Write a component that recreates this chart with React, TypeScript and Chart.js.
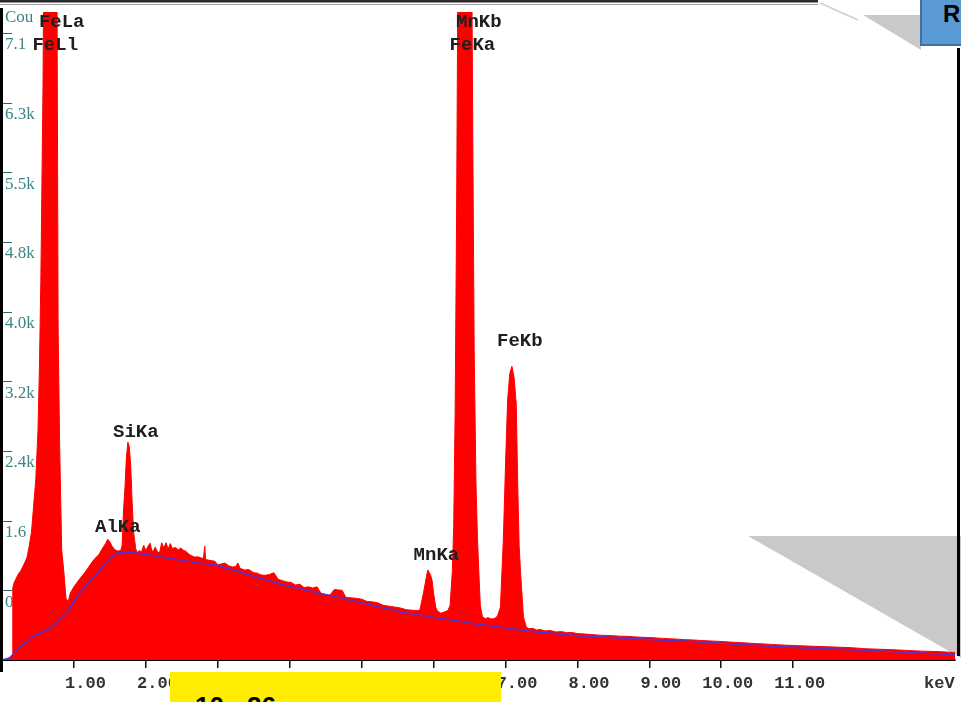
import React, { useEffect, useRef } from 'react';
import { Chart, registerables } from 'chart.js';

Chart.register(...registerables);

// EDS spectrum (energy in keV, counts)
const spectrumKeV = [
  0.0, 0.05, 0.1, 0.14, 0.15, 0.17, 0.2, 0.23, 0.26, 0.29, 0.32, 0.35, 0.38, 0.41, 0.44, 0.47, 0.5, 0.52, 0.54, 0.555,
  0.57, 0.585, 0.6, 0.65, 0.7, 0.74, 0.765, 0.78, 0.8, 0.83, 0.86, 0.89, 0.92, 0.95, 1.0, 1.08, 1.15, 1.27, 1.35, 1.4,
  1.44, 1.47, 1.5, 1.53, 1.57, 1.61, 1.65, 1.67, 1.69, 1.71, 1.73, 1.75, 1.77, 1.79, 1.81, 1.83, 1.86, 1.88, 1.91, 1.94,
  1.97, 2.0, 2.03, 2.06, 2.08, 2.1, 2.13, 2.16, 2.19, 2.22, 2.25, 2.28, 2.31, 2.34, 2.37, 2.41, 2.45, 2.49, 2.52, 2.56,
  2.6, 2.64, 2.68, 2.72, 2.76, 2.8, 2.82, 2.83, 2.87, 2.92, 2.96, 3.0, 3.05, 3.1, 3.15, 3.2, 3.25, 3.28, 3.31, 3.37,
  3.43, 3.5, 3.55, 3.6, 3.66, 3.72, 3.78, 3.84, 3.9, 3.96, 4.02, 4.08, 4.14, 4.2, 4.26, 4.32, 4.38, 4.44, 4.5, 4.56,
  4.62, 4.67, 4.73, 4.78, 4.85, 4.92, 5.0, 5.07, 5.14, 5.22, 5.3, 5.38, 5.46, 5.54, 5.62, 5.7, 5.78, 5.81, 5.86, 5.9,
  5.92, 5.96, 5.98, 6.0, 6.03, 6.05, 6.1, 6.15, 6.2, 6.23, 6.26, 6.28, 6.3, 6.32, 6.34, 6.37, 6.41, 6.45, 6.49, 6.52,
  6.545, 6.565, 6.59, 6.61, 6.63, 6.65, 6.68, 6.72, 6.76, 6.8, 6.85, 6.89, 6.93, 6.95, 6.97, 7.0, 7.03, 7.06, 7.09, 7.12,
  7.15, 7.17, 7.19, 7.21, 7.25, 7.29, 7.33, 7.38, 7.43, 7.48, 7.55, 7.62, 7.7, 7.78, 7.85, 7.92, 8.0, 8.1, 8.2, 8.3,
  8.4, 8.5, 8.6, 8.7, 8.8, 8.9, 9.0, 9.1, 9.2, 9.3, 9.4, 9.5, 9.6, 9.7, 9.8, 9.9, 10.0, 10.1, 10.2, 10.3,
  10.4, 10.5, 10.6, 10.7, 10.8, 10.9, 11.0, 11.2, 11.4, 11.6, 11.8, 12.0, 12.2, 12.4, 12.6, 12.8, 13.0, 13.25,
];
const spectrumCounts = [
  0, 10, 25, 60, 820, 880, 930, 980, 1010, 1060, 1110, 1170, 1300, 1450, 1750, 2050, 2600, 3300, 4300, 5400,
  6500, 8500, 10500, 11800, 11600, 10200, 7600, 3800, 2500, 1250, 1000, 700, 660, 760, 830, 920, 990, 1130, 1200, 1270,
  1320, 1370, 1340, 1290, 1250, 1235, 1240, 1300, 1700, 1960, 2300, 2470, 2420, 2200, 1780, 1450, 1260, 1220, 1240, 1225,
  1300, 1240, 1290, 1325, 1250, 1224, 1280, 1230, 1212, 1330, 1270, 1330, 1260, 1320, 1265, 1275, 1250, 1270, 1246, 1230,
  1200, 1180, 1167, 1170, 1160, 1150, 1290, 1140, 1133, 1125, 1120, 1076, 1090, 1100, 1070, 1055, 1060, 1100, 1040, 1020,
  1025, 990, 985, 965, 960, 970, 990, 915, 900, 884, 880, 850, 860, 820, 830, 816, 830, 750, 740, 735,
  800, 795, 790, 710, 705, 700, 690, 665, 660, 650, 620, 610, 600, 590, 570, 565, 560, 567, 760, 940,
  1020, 960, 900, 760, 600, 560, 530, 545, 560, 620, 990, 1500, 2800, 5000, 8000, 11500, 14000, 14300, 12500, 9500,
  6000, 3500, 2000, 1400, 990, 620, 490, 470, 480, 465, 470, 500, 600, 986, 1360, 2200, 2950, 3250, 3330, 3200,
  2900, 2000, 1300, 990, 490, 370, 355, 360, 340, 345, 330, 335, 318, 322, 310, 312, 300, 295, 288, 282,
  278, 275, 270, 268, 262, 258, 255, 250, 244, 240, 236, 230, 228, 222, 218, 214, 210, 205, 200, 196,
  190, 185, 182, 176, 172, 168, 165, 158, 152, 146, 140, 128, 122, 116, 108, 100, 96, 85,
];

// Fitted background line
const backgroundKeV = [0.0, 0.11, 0.25, 0.43, 0.67, 0.9, 1.08, 1.36, 1.6, 1.88, 2.06, 2.29, 2.75, 2.99, 3.91, 4.84, 5.54, 6.5, 7.3, 8.0, 8.7, 9.6, 10.5, 11.1, 12.0, 13.25];
const backgroundCounts = [0, 23, 147, 261, 363, 533, 759, 1020, 1224, 1212, 1190, 1156, 1099, 1076, 850, 680, 544, 420, 330, 275, 245, 210, 165, 140, 110, 60];

// Axis ticks
const xTickValues = [1, 2, 3, 4, 5, 6, 7, 8, 9, 10, 11, 12.8];
const xTickLabels = ['1.00', '2.00', '3.00', '4.00', '5.00', '6.00', '7.00', '8.00', '9.00', '10.00', '11.00', 'keV'];
const yTickValues = [790, 1580, 2370, 3160, 3950, 4740, 5530, 6320, 7110];
const yTickLabels = ['0', '1.6', '2.4k', '3.2k', '4.0k', '4.8k', '5.5k', '6.3k', '7.1'];
const yAxisTitle = 'Cou';

// Peak labels
const peakNames = ['FeLa', 'FeLl', 'MnKb', 'FeKa', 'FeKb', 'SiKa', 'AlKa', 'MnKa'];
const peakKeV = [0.83, 0.74, 6.63, 6.54, 7.2, 1.86, 1.61, 6.04];
const peakCounts = [7230, 6970, 7230, 6970, 3610, 2580, 1500, 1190];

const TEAL = '#3a8585';

const zeroPadding = (axis: any) => {
  axis.paddingTop = 0;
  axis.paddingBottom = 0;
  axis.paddingLeft = 0;
  axis.paddingRight = 0;
};

const decorPlugin = {
  id: 'decor',
  beforeDatasetsDraw(chart: any) {
    const ctx = chart.ctx;
    ctx.save();
    ctx.fillStyle = '#c9c9c9';
    ctx.beginPath();
    ctx.moveTo(748, 536);
    ctx.lineTo(961, 536);
    ctx.lineTo(961, 658);
    ctx.closePath();
    ctx.fill();
    ctx.restore();
  },
  afterDatasetsDraw(chart: any) {
    const ctx = chart.ctx;
    const xs = chart.scales.x;
    const ys = chart.scales.y;
    ctx.save();
    ctx.font = 'bold 19px "Liberation Mono"';
    ctx.fillStyle = '#1e1e1e';
    ctx.textAlign = 'center';
    ctx.textBaseline = 'middle';
    peakNames.forEach((n, i) => {
      ctx.fillText(n, xs.getPixelForValue(peakKeV[i]), ys.getPixelForValue(peakCounts[i]));
    });
    ctx.restore();
  },
  afterDraw(chart: any) {
    const ctx = chart.ctx;
    const ys = chart.scales.y;
    ctx.save();
    // y tick overlines
    ctx.strokeStyle = '#2f6a6a';
    ctx.lineWidth = 1;
    yTickValues.forEach((v) => {
      const y = Math.round(ys.getPixelForValue(v)) + 0.5;
      ctx.beginPath();
      ctx.moveTo(3, y);
      ctx.lineTo(12, y);
      ctx.stroke();
    });
    // axis title (truncated)
    ctx.font = '17px "Liberation Serif"';
    ctx.fillStyle = TEAL;
    ctx.textAlign = 'left';
    ctx.textBaseline = 'middle';
    ctx.fillText(yAxisTitle, 5, 18);
    // frame lines
    ctx.fillStyle = '#2a2a2a';
    ctx.fillRect(0, 0, 818, 2.5);
    ctx.fillStyle = '#a0a0a0';
    ctx.fillRect(0, 4, 818, 1);
    ctx.fillStyle = '#000';
    ctx.fillRect(0, 8, 3, 664);
    ctx.fillRect(957, 48, 3, 608);
    // thin diagonal + gray triangle at top right
    ctx.strokeStyle = '#cfcfcf';
    ctx.lineWidth = 1.5;
    ctx.beginPath();
    ctx.moveTo(820, 3);
    ctx.lineTo(858, 20);
    ctx.stroke();
    ctx.fillStyle = '#c9c9c9';
    ctx.beginPath();
    ctx.moveTo(863, 15);
    ctx.lineTo(921, 15);
    ctx.lineTo(921, 50);
    ctx.closePath();
    ctx.fill();
    ctx.restore();
  },
};

export default function App() {
  const ref = useRef<HTMLCanvasElement>(null);

  useEffect(() => {
    if (!ref.current) return;
    const chart = new Chart(ref.current, {
      type: 'line',
      data: {
        datasets: [
          {
            label: 'Background',
            data: backgroundKeV.map((x, i) => ({ x, y: backgroundCounts[i] })),
            borderColor: '#5533cc',
            borderWidth: 1.6,
            pointRadius: 0,
            fill: false,
            order: 0,
          },
          {
            label: 'Spectrum',
            data: spectrumKeV.map((x, i) => ({ x, y: spectrumCounts[i] })),
            borderColor: '#ff0000',
            backgroundColor: '#ff0000',
            borderWidth: 1,
            pointRadius: 0,
            fill: 'origin',
            clip: { left: 2, top: -9, right: 2, bottom: 2 },
            order: 1,
          },
        ],
      },
      options: {
        responsive: false,
        maintainAspectRatio: false,
        animation: false,
        devicePixelRatio: 1,
        layout: { padding: { left: 2, right: 6, top: 3, bottom: 0 } },
        plugins: { legend: { display: false }, tooltip: { enabled: false } },
        scales: {
          x: {
            type: 'linear',
            min: 0,
            max: 13.25,
            afterBuildTicks: (axis: any) => {
              axis.ticks = xTickValues.map((v) => ({ value: v }));
            },
            afterFit: (axis: any) => {
              axis.height = 42;
              zeroPadding(axis);
            },
            border: { display: true, color: '#000', width: 2 },
            grid: {
              drawOnChartArea: false,
              drawTicks: true,
              tickLength: 8,
              lineWidth: 1.5,
              color: (c: any) => (c.tick && c.tick.value > 11.5 ? 'rgba(0,0,0,0)' : '#111'),
            },
            ticks: {
              autoSkip: false,
              maxRotation: 0,
              minRotation: 0,
              align: 'end',
              labelOffset: 32,
              padding: 6,
              color: '#333',
              font: { family: 'Liberation Mono', size: 17, weight: 'bold' },
              callback: (_v: any, i: number) => xTickLabels[i],
            },
          },
          y: {
            type: 'linear',
            min: 0,
            max: 7450,
            afterBuildTicks: (axis: any) => {
              axis.ticks = yTickValues.map((v) => ({ value: v }));
            },
            afterFit: (axis: any) => {
              axis.width = 0;
              zeroPadding(axis);
            },
            border: { display: false },
            grid: { display: false },
            ticks: {
              mirror: true,
              padding: 3,
              labelOffset: 12,
              color: TEAL,
              font: { family: 'Liberation Serif', size: 17 },
              callback: (_v: any, i: number) => yTickLabels[i],
            },
          },
        },
      },
      plugins: [decorPlugin],
    } as any);
    return () => chart.destroy();
  }, []);

  return (
    <div style={{ position: 'fixed', left: 0, top: 0, width: 961, height: 702, overflow: 'hidden', background: '#fff' }}>
      <canvas ref={ref} width={961} height={702} style={{ display: 'block', width: 961, height: 702 }} />
      <div style={{ position: 'absolute', left: 170, top: 672, width: 331, height: 40, background: '#ffed00' }}>
        <div
          style={{
            position: 'absolute',
            left: 25,
            top: 21,
            font: 'bold 26px "Liberation Sans"',
            lineHeight: '26px',
            whiteSpace: 'nowrap',
            color: '#000',
          }}
        >
          10 - 26
        </div>
      </div>
      <div
        style={{
          position: 'absolute',
          left: 920,
          top: -2,
          width: 45,
          height: 48,
          background: '#5b9bd5',
          border: '2px solid #41719c',
          boxSizing: 'border-box',
        }}
      >
        <div
          style={{
            position: 'absolute',
            left: 21,
            top: 2,
            font: 'bold 24px "Liberation Sans"',
            lineHeight: '24px',
            color: '#000',
          }}
        >
          R
        </div>
      </div>
    </div>
  );
}
